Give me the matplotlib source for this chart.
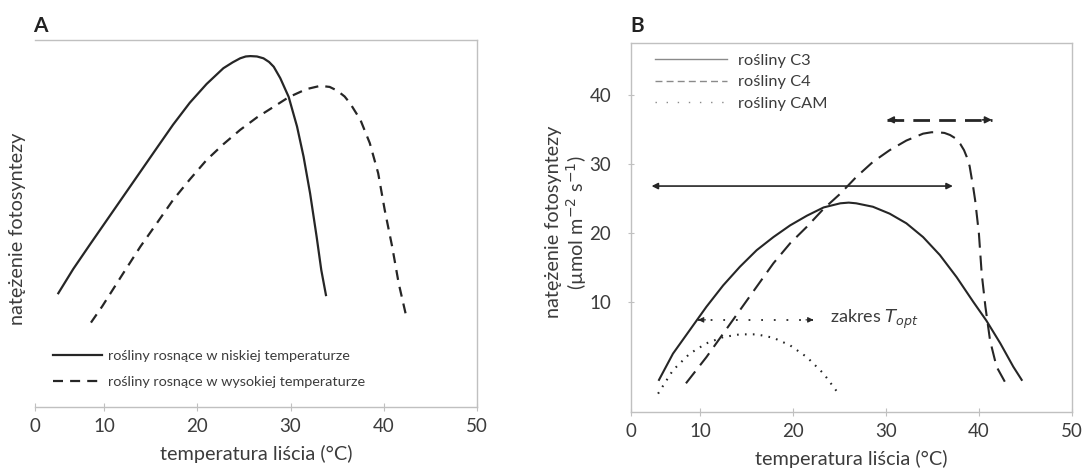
import matplotlib
matplotlib.use("Agg")
import matplotlib.pyplot as plt

plt.rcParams['font.family'] = ['Lato', 'DejaVu Sans']

# ---------------- Panel A data ----------------
a_low_x = [5.1, 6.7, 8.5, 10.3, 12.1, 13.9, 15.7, 17.4, 19.2, 21.0, 22.8, 23.8, 24.6, 25.2, 25.7,
           26.4, 27.1, 27.7, 28.2, 28.9, 29.8, 30.7, 31.4, 32.1, 32.8, 33.3, 33.8]
a_low_y = [31.0, 37.6, 44.3, 50.9, 57.5, 64.1, 70.7, 76.9, 82.9, 88.0, 92.3, 93.9, 95.0, 95.5, 95.6,
           95.5, 95.0, 94.0, 92.7, 89.6, 84.5, 76.4, 68.2, 58.2, 46.4, 37.3, 30.5]
a_high_x = [8.6, 9.8, 11.9, 13.9, 15.7, 17.4, 19.2, 21.0, 22.8, 24.6, 26.4, 28.2, 29.8,
            31.7, 33.2, 34.2, 35.0, 35.8, 36.4, 37.5, 38.5, 39.4, 40.1, 40.9, 41.6, 42.5]
a_high_y = [23.0, 27.4, 35.8, 43.7, 50.2, 56.4, 62.0, 67.3, 71.6, 75.5, 78.9, 81.8, 84.4,
            86.6, 87.5, 87.2, 86.2, 84.6, 82.7, 78.2, 71.9, 63.7, 53.7, 43.7, 33.7, 23.7]
a_labels = ['rośliny rosnące w niskiej temperaturze', 'rośliny rosnące w wysokiej temperaturze']

# ---------------- Panel B data ----------------
c3_x = [5.6, 7.1, 8.9, 10.7, 12.5, 14.3, 16.1, 17.9, 19.7, 21.5, 23.3, 25.1, 26.0, 26.8,
        28.6, 30.4, 32.2, 34.0, 35.8, 37.6, 39.4, 40.8, 42.3, 43.7, 44.6]
c3_y = [-1.3, 2.5, 5.9, 9.3, 12.4, 15.1, 17.5, 19.4, 21.1, 22.5, 23.7, 24.3, 24.4, 24.3,
        23.8, 22.8, 21.4, 19.4, 16.8, 13.6, 10.0, 7.3, 4.0, 0.6, -1.3]
c4_x = [8.5, 10.7, 12.5, 14.3, 16.1, 17.9, 19.7, 21.5, 23.3, 25.1, 26.8, 28.6, 30.4,
        32.2, 34.0, 34.9, 35.6, 36.3, 36.9, 37.5, 38.0, 38.4, 38.7, 39.0, 39.2, 39.4, 39.6,
        40.0, 40.3, 40.7, 41.2, 41.9, 42.8]
c4_y = [-1.8, 2.0, 5.4, 8.8, 12.2, 15.6, 18.5, 20.9, 23.5, 25.7, 28.1, 30.3, 32.0,
        33.4, 34.4, 34.6, 34.6, 34.5, 34.2, 33.7, 32.9, 32.0, 31.0, 29.7, 28.1, 26.5, 24.7,
        19.9, 14.1, 9.3, 4.4, 0.6, -1.6]
cam_x = [5.5, 7.1, 8.9, 10.7, 12.5, 14.3, 16.1, 17.9, 19.7, 21.5, 23.3, 24.9]
cam_y = [-3.3, 0.1, 2.5, 4.0, 4.9, 5.3, 5.3, 4.8, 3.7, 2.0, -0.4, -3.3]
b_labels = ['rośliny C3', 'rośliny C4', 'rośliny CAM']

# optimum ranges: (x_from, x_to, y)
c3_range = [4.8, 37.2, 26.8]
c4_range = [30.1, 41.4, 36.4]
cam_range = [9.8, 22.2, 7.4]
topt_label_x = 24.0

x_ticks = [10, 20, 30, 40, 50]
x_ticklabels = ['0', '10', '20', '30', '40', '50']
b_yticks = [10, 20, 30, 40]

TXT = '#3c3c3c'
SPINE = '#c0c0c0'
LINE = '#262626'
FS = 14.3

fig = plt.figure(figsize=(10.89, 4.70), dpi=100)


def style_axes(ax, x0, show_left):
    for s in ['top', 'right', 'bottom', 'left']:
        ax.spines[s].set_color(SPINE)
        ax.spines[s].set_linewidth(1.0)
    ax.spines['left'].set_visible(show_left)
    ax.set_xlim(x0, 50)
    ax.set_xticks([x0] + x_ticks)
    ax.set_xticklabels(x_ticklabels)
    ax.tick_params(axis='x', direction='inout', length=6, color=SPINE, labelcolor=TXT,
                   labelsize=13.5, pad=5)
    ax.set_xlabel('temperatura liścia (°C)', fontsize=FS, color=TXT, labelpad=7)


# ---------------- Panel A ----------------
axA = fig.add_axes([0.03214, 0.134, 0.4059, 0.781])
style_axes(axA, 2.6, False)
axA.set_ylim(0, 100)
axA.set_yticks([])
axA.plot(a_low_x, a_low_y, color=LINE, lw=1.6, label=a_labels[0])
axA.plot(a_high_x, a_high_y, color=LINE, lw=1.6, ls=(0, (4.5, 3.2)), label=a_labels[1])
axA.set_ylabel('natężenie fotosyntezy', fontsize=FS, color=TXT)
axA.yaxis.set_label_coords(-0.02, 0.485)
legA = axA.legend(loc='upper left', bbox_to_anchor=(0.027, 0.171), frameon=False,
                  fontsize=10.4, handlelength=3.4, handletextpad=0.4, labelspacing=0.95,
                  borderaxespad=0)
for t in legA.get_texts():
    t.set_color(TXT)
fig.text(0.030, 0.932, 'A', fontsize=15, fontweight='bold', color='#222222')

# ---------------- Panel B ----------------
axB = fig.add_axes([0.5791, 0.1228, 0.4052, 0.7851])
style_axes(axB, 2.55, True)
axB.set_ylim(-6.0, 47.5)
axB.set_yticks(b_yticks)
axB.tick_params(axis='y', direction='inout', length=4, color=SPINE, labelcolor=TXT,
                labelsize=13.5, pad=12)
axB.plot(c3_x, c3_y, color=LINE, lw=1.5, label=b_labels[0])
axB.plot(c4_x, c4_y, color=LINE, lw=1.5, ls=(0, (7.2, 3.8)), label=b_labels[1])
axB.plot(cam_x, cam_y, color=LINE, lw=1.5, ls=(0, (0.8, 3.0)), label=b_labels[2])

# optimum ranges arrows
axB.annotate('', xy=(c3_range[1], c3_range[2]), xytext=(c3_range[0], c3_range[2]),
             arrowprops=dict(arrowstyle='<|-|>', color=LINE, lw=1.2,
                             mutation_scale=9, shrinkA=0, shrinkB=0))
axB.plot(c4_range[:2], [c4_range[2]] * 2, color=LINE, lw=2.0, ls=(0, (6.0, 3.3)))
for xa, xb in [(c4_range[0] + 1, c4_range[0]), (c4_range[1] - 1, c4_range[1])]:
    axB.annotate('', xy=(xb, c4_range[2]), xytext=(xa, c4_range[2]),
                 arrowprops=dict(arrowstyle='-|>', color=LINE, lw=1.2,
                                 mutation_scale=10, shrinkA=0, shrinkB=0))
axB.plot(cam_range[:2], [cam_range[2]] * 2, color=LINE, lw=1.3, ls=(0, (1.0, 6.0)))
for xa, xb in [(cam_range[0] + 0.8, cam_range[0]), (cam_range[1] - 0.8, cam_range[1])]:
    axB.annotate('', xy=(xb, cam_range[2]), xytext=(xa, cam_range[2]),
                 arrowprops=dict(arrowstyle='-|>', color=LINE, lw=0.8,
                                 mutation_scale=8, shrinkA=0, shrinkB=0))
axB.text(topt_label_x, cam_range[2], r'zakres $\mathit{T}_{\mathit{opt}}$', fontsize=13,
         color=TXT, va='center', ha='left')

axB.set_ylabel('natężenie fotosyntezy\n(µmol m$^{-2}$ s$^{-1}$)', fontsize=FS, color=TXT,
               linespacing=1.1)
axB.yaxis.set_label_coords(-0.095, 0.515)
legB = axB.legend(loc='upper left', bbox_to_anchor=(0.04, 0.99), frameon=False,
                  fontsize=11.8, handlelength=4.4, handletextpad=0.7, labelspacing=0.42,
                  borderaxespad=0)
for t in legB.get_texts():
    t.set_color(TXT)
for ln in legB.get_lines():
    ln.set_color('#8a8a8a')
    ln.set_linewidth(1.0)
legB.get_lines()[1].set_linestyle((0, (5, 3)))
legB.get_lines()[2].set_linestyle((0, (1, 7)))
fig.text(0.579, 0.932, 'B', fontsize=15, fontweight='bold', color='#222222')

fig.savefig('out.png', dpi=100)
